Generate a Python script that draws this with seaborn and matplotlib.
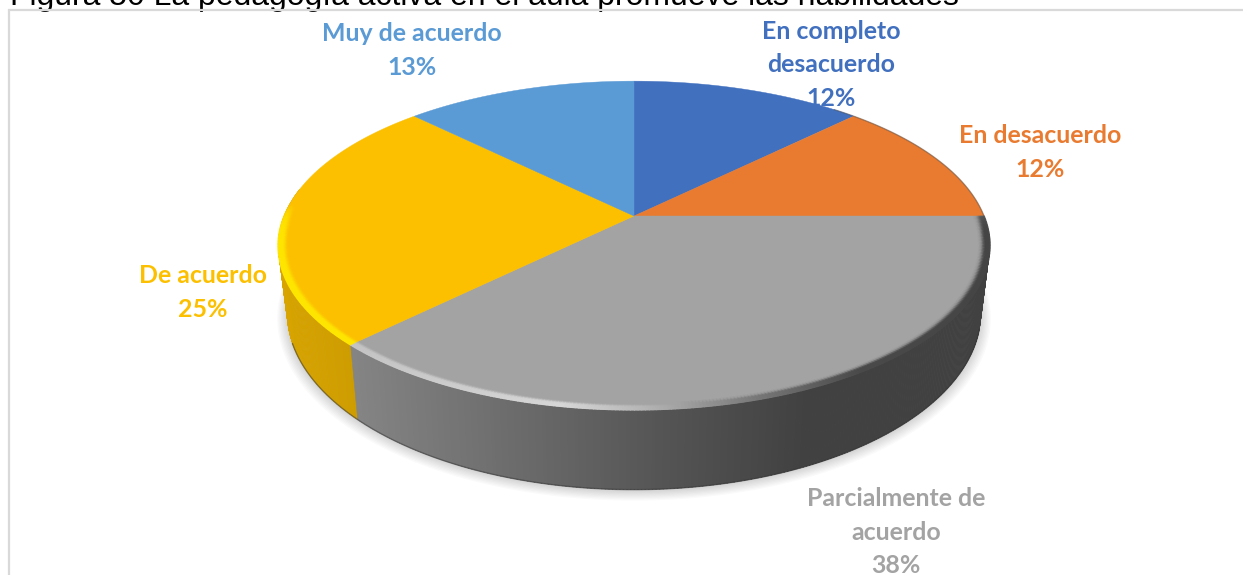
import numpy as np
import matplotlib
matplotlib.use("Agg")
import matplotlib.pyplot as plt
import seaborn as sns
from matplotlib.collections import PolyCollection, LineCollection

# Data, clockwise from 12 o'clock
categories = ["En completo\ndesacuerdo", "En desacuerdo", "Parcialmente de\nacuerdo", "De acuerdo", "Muy de acuerdo"]
shares = [12.5, 12.5, 37.5, 25, 12.5]
pct_labels = ["12%", "12%", "38%", "25%", "13%"]
slice_colors = ["#4170BF", "#E97B30", "#A3A3A3", "#FCC000", "#5A9AD5"]
title = "Figura 50 La pedagogía activa en el aula promueve las habilidades"

sns.set_theme(style="white")
palette = sns.color_palette(slice_colors)

W, H = 1243, 575
fig = plt.figure(figsize=(W / 100, H / 100), dpi=100, facecolor="white")
ax = fig.add_axes([0, 0, 1, 1])

# pie() works out the angles, the wedges are then redrawn in perspective
wedges, _ = ax.pie(shares, startangle=90, counterclock=False, colors=palette)
start_angles = [w.theta1 for w in wedges]
end_angles = [w.theta2 for w in wedges]
for w in wedges:
    w.remove()
ax.set_aspect("auto")
ax.set_xlim(0, W)
ax.set_ylim(H, 0)
ax.axis("off")

# perspective of the disc
cx, cy = 634, 216
a, b, k = 350, 159, 0.179
foot_scale, foot_cy, foot_yscale = 0.975, 281, 1.105


def project(deg, scale=1.0, yc=cy, yscale=1.0):
    t = np.radians(deg)
    w = 1 + k * np.sin(t)
    return cx + scale * a * np.cos(t) / w, yc - yscale * scale * b * np.sin(t) / w


def foot(deg, grow=0.0):
    return project(deg, foot_scale + grow, foot_cy, foot_yscale)


def shade(x):
    return np.interp(x, [280, 350, 660, 800, 990], [0.86, 0.82, 0.52, 0.40, 0.40])


def bevel(x):
    return np.interp(x, [280, 350, 560, 640, 760, 860, 990], [1.2, 1.2, 1.32, 1.12, 0.72, 0.45, 0.42])


def slice_at(deg):
    deg = deg % 360
    for i in range(len(shares)):
        lo, hi = start_angles[i] % 360, end_angles[i] % 360
        if lo <= hi and lo <= deg < hi:
            return i
        if lo > hi and (deg >= lo or deg < hi):
            return i
    return 0


def scaled(color, f):
    return tuple(np.clip(np.array(color) * f, 0, 1))


# soft shadow under the disc
ring = np.linspace(0, 360, 361)
for i in range(9):
    sx, sy = foot(ring, 0.0035 * i)
    ax.fill(sx, sy + 1 + 0.5 * i, color="black", alpha=0.02, lw=0, zorder=1)

# side wall
steps = np.arange(170, 360, 0.5)
quads, quad_colors = [], []
for d in steps:
    x1, y1 = project(d)
    x2, y2 = project(d + 0.6)
    x3, y3 = foot(d + 0.6)
    x4, y4 = foot(d)
    quads.append([(x1, y1), (x2, y2), (x3, y3), (x4, y4)])
    quad_colors.append(scaled(palette[slice_at(d)], shade(x4)))
ax.add_collection(PolyCollection(quads, facecolors=quad_colors, edgecolors=quad_colors, linewidths=0.4, zorder=2))

# dark line along the foot of the wall
fx, fy = foot(np.arange(200, 345, 0.5))
ax.plot(fx, fy, color="#333333", lw=1, alpha=0.5, zorder=3)

# top surface
for i in range(len(shares)):
    angles = np.linspace(start_angles[i], end_angles[i], 200)
    px, py = project(angles)
    ax.fill(np.r_[cx, px], np.r_[cy, py], color=palette[i], lw=0.3, zorder=4)

# rounded bevel on the rim, lower half only
for scale in np.linspace(1.0, 0.968, 16):
    alpha = 1.0 if scale > 0.993 else np.exp(-((scale - 0.993) / 0.011) ** 2)
    segs, seg_colors = [], []
    for d in np.arange(172, 360, 0.5):
        x1, y1 = project(d, scale)
        x2, y2 = project(d + 0.6, scale)
        fade = np.clip((-np.sin(np.radians(d)) + 0.08) / 0.2, 0, 1)
        segs.append([(x1, y1), (x2, y2)])
        seg_colors.append(scaled(palette[slice_at(d)], bevel(x1)) + (alpha * fade,))
    ax.add_collection(LineCollection(segs, colors=seg_colors, linewidths=1.3, zorder=5))

# dark edge on the right of the top half
ex, ey = project(np.arange(-12, 50, 0.5))
ax.plot(ex, ey, color="#4a4a4a", lw=1.0, alpha=0.45, zorder=5)

# clipped title and chart frame
ax.text(10, 5, title, fontsize=22.95, family=["Liberation Sans", "DejaVu Sans"], color="black",
        ha="left", va="baseline", zorder=6)
ax.plot([W, 9.5, 9.5], [10, 10, H], color="#D9D9D9", lw=1.6, zorder=7, solid_joinstyle="miter")

# data labels
label_pos = [(831, 65), (1040, 152.5), (896, 532), (203, 292.5), (412, 50.5)]
for i, (lx, ly) in enumerate(label_pos):
    ax.text(lx, ly, categories[i] + "\n" + pct_labels[i], color=palette[i], fontsize=17.9,
            family="Lato", fontweight="bold", ha="center", va="center", linespacing=1.53, zorder=8)

fig.savefig("out.png", dpi=100, facecolor="white")
